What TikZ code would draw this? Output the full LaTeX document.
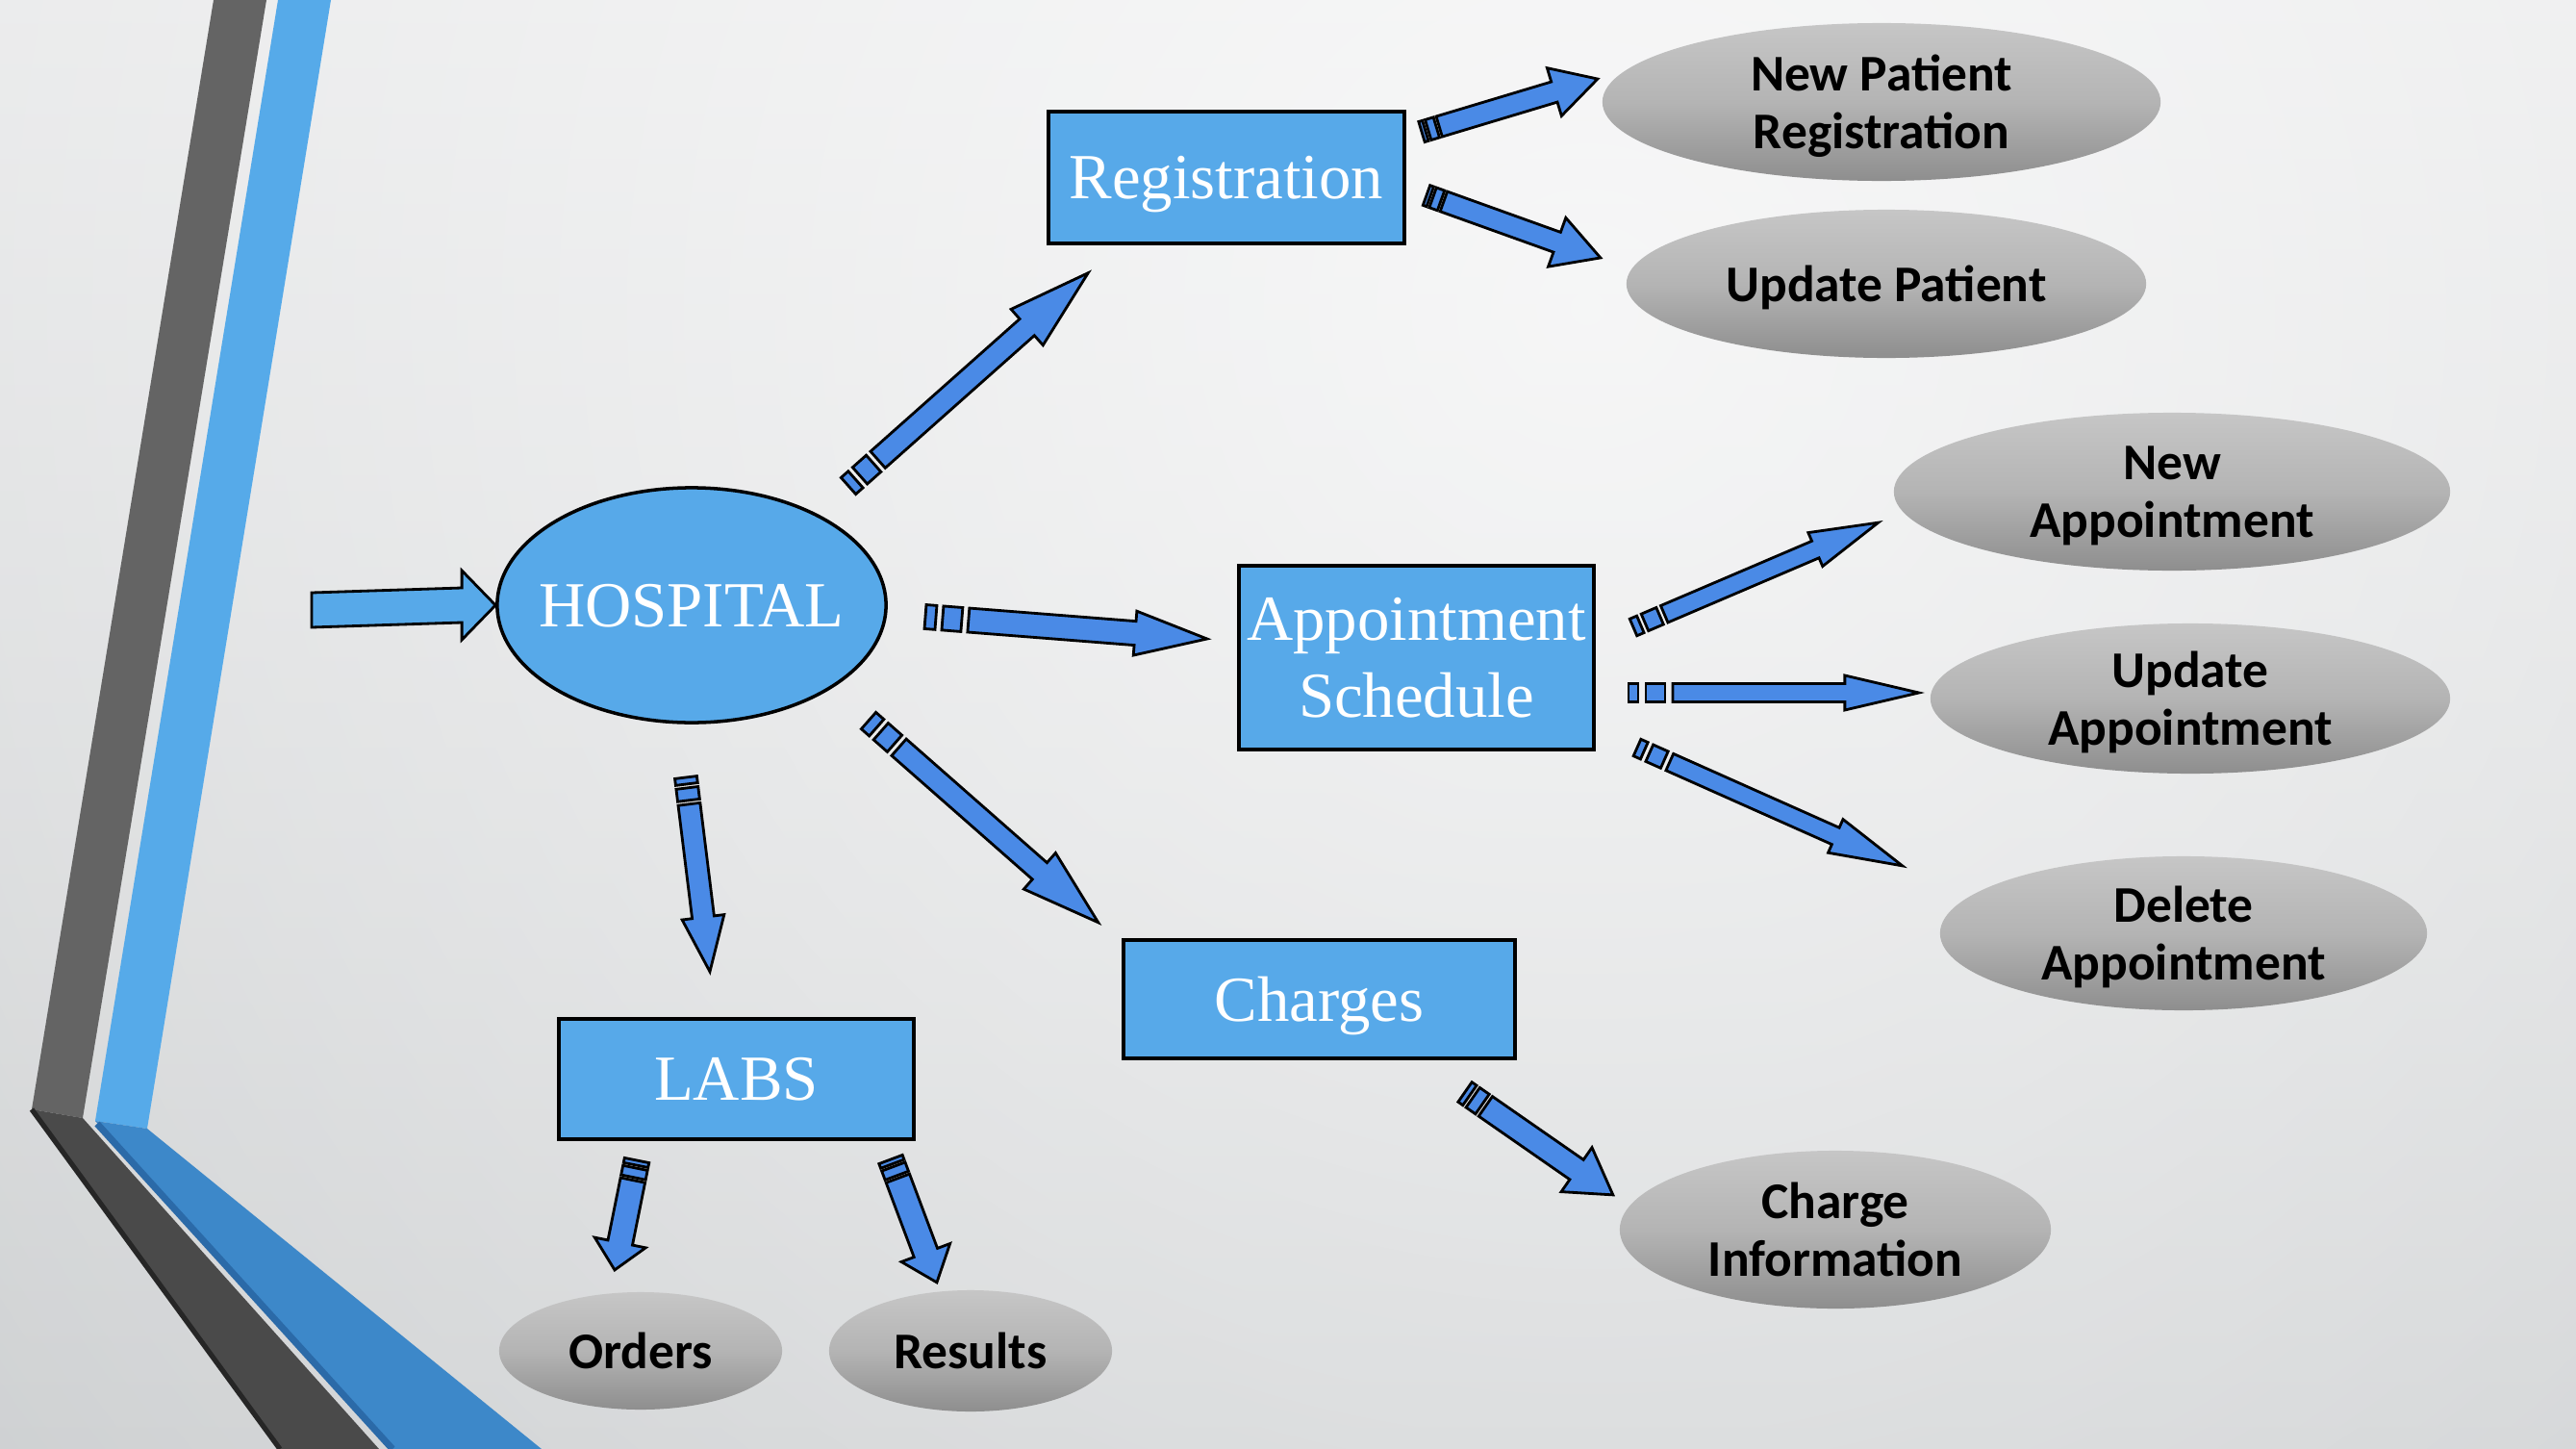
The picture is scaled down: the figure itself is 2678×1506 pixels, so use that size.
\documentclass[tikz,border=0pt]{standalone}
\usepackage{fontspec}
\setmainfont{Liberation Serif}
\newfontfamily\calfont{Carlito}
\usetikzlibrary{shapes.geometric,calc,fadings}
\definecolor{bgTop}{HTML}{E2E3E4}
\definecolor{bgBot}{HTML}{C0C3C5}
\definecolor{nodeblue}{HTML}{57A9E9}
\definecolor{arrowblue}{HTML}{4A8AE6}
\definecolor{stripedark}{HTML}{646464}
\definecolor{armdark}{HTML}{4A4A4A}
\definecolor{armdarkedge}{HTML}{262626}
\definecolor{stripeblue}{HTML}{56AAE9}
\definecolor{armblue}{HTML}{3D88C9}
\definecolor{armblueedge}{HTML}{2B6AA8}
\definecolor{ovalTop}{HTML}{C6C6C6}
\definecolor{ovalMid}{HTML}{B4B4B4}
\definecolor{ovalBot}{HTML}{8E8E8E}
\tikzfading[name=glowfade, inner color=transparent!0, outer color=transparent!100]
\newcommand\bigserif{\fontsize{19}{22.8}\selectfont}
\newcommand\ovalfont{\calfont\bfseries\fontsize{15.2}{17}\selectfont}
\newdimen\arrdx
\newdimen\arrdy
% #1 from, #2 to, #3 half shaft, #4 half head, #5 head length, #6 strip1, #7 strip2, #8 gap
\newcommand\stripearrow[8]{%
  \pgfextractx{\arrdx}{\pgfpointdiff{\pgfpointanchor{#1}{center}}{\pgfpointanchor{#2}{center}}}%
  \pgfextracty{\arrdy}{\pgfpointdiff{\pgfpointanchor{#1}{center}}{\pgfpointanchor{#2}{center}}}%
  \pgfmathsetmacro\arrAng{atan2(\arrdy,\arrdx)}%
  \pgfmathsetmacro\arrL{veclen(\arrdx,\arrdy)/0.284528}%
  \pgfmathsetmacro\arrA{#6}%
  \pgfmathsetmacro\arrB{#6+#8}%
  \pgfmathsetmacro\arrC{#6+#8+#7}%
  \pgfmathsetmacro\arrD{#6+2*#8+#7}%
  \pgfmathsetmacro\arrE{\arrL-#5}%
  \begin{scope}[shift={(#1)},rotate=\arrAng,x=0.01cm,y=0.01cm]
    \draw[sarrow] (0,-#3) rectangle (\arrA,#3);
    \draw[sarrow] (\arrB,-#3) rectangle (\arrC,#3);
    \draw[sarrow] (\arrD,-#3) -- (\arrE,-#3) -- (\arrE,-#4) -- (\arrL,0) -- (\arrE,#4) -- (\arrE,#3) -- (\arrD,#3) -- cycle;
  \end{scope}}
\tikzset{
  sarrow/.style={draw=black, line width=0.8pt, fill=arrowblue, line join=miter},
  parrow/.style={draw=black, line width=0.8pt, fill=nodeblue, line join=miter},
  bluebox/.style={rectangle, draw=black, line width=1pt, fill=nodeblue, text=white, font=\bigserif, align=center, inner sep=0pt},
  blueoval/.style={ellipse, draw=black, line width=1pt, fill=nodeblue, text=white, font=\bigserif, align=center, inner sep=0pt},
  oval/.style={ellipse, top color=ovalTop, bottom color=ovalBot, middle color=ovalMid, text=black, font=\ovalfont, align=center, inner sep=0pt},
  oneline/.style={text depth=0pt},
}
\begin{document}
\begin{tikzpicture}[x=0.01cm,y=-0.01cm]
\useasboundingbox (0,0) rectangle (2678,1506);
% background
\begin{scope}
\clip (0,0) rectangle (2678,1506);
\shade[top color=bgTop, bottom color=bgBot] (0,0) rectangle (2678,1506);
\fill[white, fill opacity=0.75, path fading=glowfade] (1650,320) circle (30cm);
% left decoration
\fill[stripedark] (222,0) -- (277,0) -- (86,1162) -- (33,1153) -- cycle;
\fill[armdark] (33,1153) -- (86,1162) -- (394,1506) -- (291,1506) -- cycle;
\draw[armdarkedge, line width=1.5pt] (33,1153) -- (291,1506);
\fill[stripeblue] (289,0) -- (344,0) -- (153,1173) -- (99,1165) -- cycle;
\fill[armblue] (99,1165) -- (153,1173) -- (563,1506) -- (406,1506) -- cycle;
\draw[armblueedge, line width=2pt] (101,1168) -- (408,1506);
\end{scope}

% main nodes
\node[blueoval, oneline, inner xsep=-5pt, minimum width=4.04cm, minimum height=2.44cm] (hosp) at (719,629) {HOSPITAL};
\node[bluebox, oneline, minimum width=3.70cm, minimum height=1.37cm] (reg) at (1275,184.5) {Registration};
\node[bluebox, minimum width=3.69cm, minimum height=1.91cm] (appt) at (1472.5,683.5) {Appointment\\Schedule};
\node[bluebox, oneline, minimum width=4.07cm, minimum height=1.23cm] (chg) at (1371.5,1038.5) {Charges};
\node[bluebox, oneline, minimum width=3.69cm, minimum height=1.25cm] (labs) at (765.5,1121.5) {LABS};

% grey ovals
\node[oval, minimum width=5.80cm, minimum height=1.64cm] (npr) at (1956,106) {New Patient\\\smash{Registration}};
\node[oval, oneline, minimum width=5.40cm, minimum height=1.54cm] (up) at (1961,295) {Update Patient};
\node[oval, minimum width=5.78cm, minimum height=1.64cm] (na) at (2258,511) {New\\\smash{Appointment}};
\node[oval, minimum width=5.40cm, minimum height=1.56cm] (ua) at (2277,726) {Update\\\smash{Appointment}};
\node[oval, minimum width=5.06cm, minimum height=1.60cm] (da) at (2270,970) {Delete\\\smash{Appointment}};
\node[oval, minimum width=4.48cm, minimum height=1.64cm] (ci) at (1908,1278) {Charge\\Information};
\node[oval, oneline, minimum width=2.94cm, minimum height=1.22cm] (ord) at (666,1404) {Orders};
\node[oval, oneline, minimum width=2.94cm, minimum height=1.26cm] (res) at (1009,1404) {Results};

% arrow ends
\coordinate (in) at (324,634);
\coordinate (a1s) at (882,505);   \coordinate (a1e) at (1132,283);
\coordinate (a2s) at (962,641);   \coordinate (a2e) at (1255,664);
\coordinate (a3s) at (903,749);   \coordinate (a3e) at (1142,959);
\coordinate (a4s) at (713,808);   \coordinate (a4e) at (738,1010);
\coordinate (a5s) at (1478,137);  \coordinate (a5e) at (1661,82);
\coordinate (a6s) at (1483,203);  \coordinate (a6e) at (1664,268);
\coordinate (a7s) at (1698,652);  \coordinate (a7e) at (1953,543);
\coordinate (a8s) at (1693,720);  \coordinate (a8e) at (1995,720);
\coordinate (a9s) at (1702,777);  \coordinate (a9e) at (1978,900);
\coordinate (a10s) at (1523,1135); \coordinate (a10e) at (1677,1242);
\coordinate (a11s) at (662,1206);  \coordinate (a11e) at (639,1320);
\coordinate (a12s) at (926,1205);  \coordinate (a12e) at (974,1333);

% input arrow into HOSPITAL
\draw[parrow] ($(in)+(0,-18)$) -- ($(hosp.west)+(-35,-18)$) -- ($(hosp.west)+(-35,-36)$) -- (hosp.west)
  -- ($(hosp.west)+(-35,36)$) -- ($(hosp.west)+(-35,18)$) -- ($(in)+(0,18)$) -- cycle;

% striped arrows
\stripearrow{a1s}{a1e}{11.5}{25}{85}{10}{19}{6}
\stripearrow{a2s}{a2e}{12.5}{23}{75}{11}{20}{7}
\stripearrow{a3s}{a3e}{11.5}{25}{81}{11}{19}{6}
\stripearrow{a4s}{a4e}{11.5}{22}{57}{7}{13}{4}
\stripearrow{a5s}{a5e}{11}{26}{47}{4}{9}{3}
\stripearrow{a6s}{a6e}{11}{27}{48}{4}{9}{3}
\stripearrow{a7s}{a7e}{9.5}{19}{71}{8}{17}{5}
\stripearrow{a8s}{a8e}{9.5}{18}{77}{10}{20}{8}
\stripearrow{a9s}{a9e}{9.5}{19}{76}{8}{17}{6}
\stripearrow{a10s}{a10e}{12.5}{28}{46}{6}{12}{4}
\stripearrow{a11s}{a11e}{13}{27}{29}{5}{10}{3}
\stripearrow{a12s}{a12e}{13}{27}{33}{5}{10}{3}
\end{tikzpicture}
\end{document}
